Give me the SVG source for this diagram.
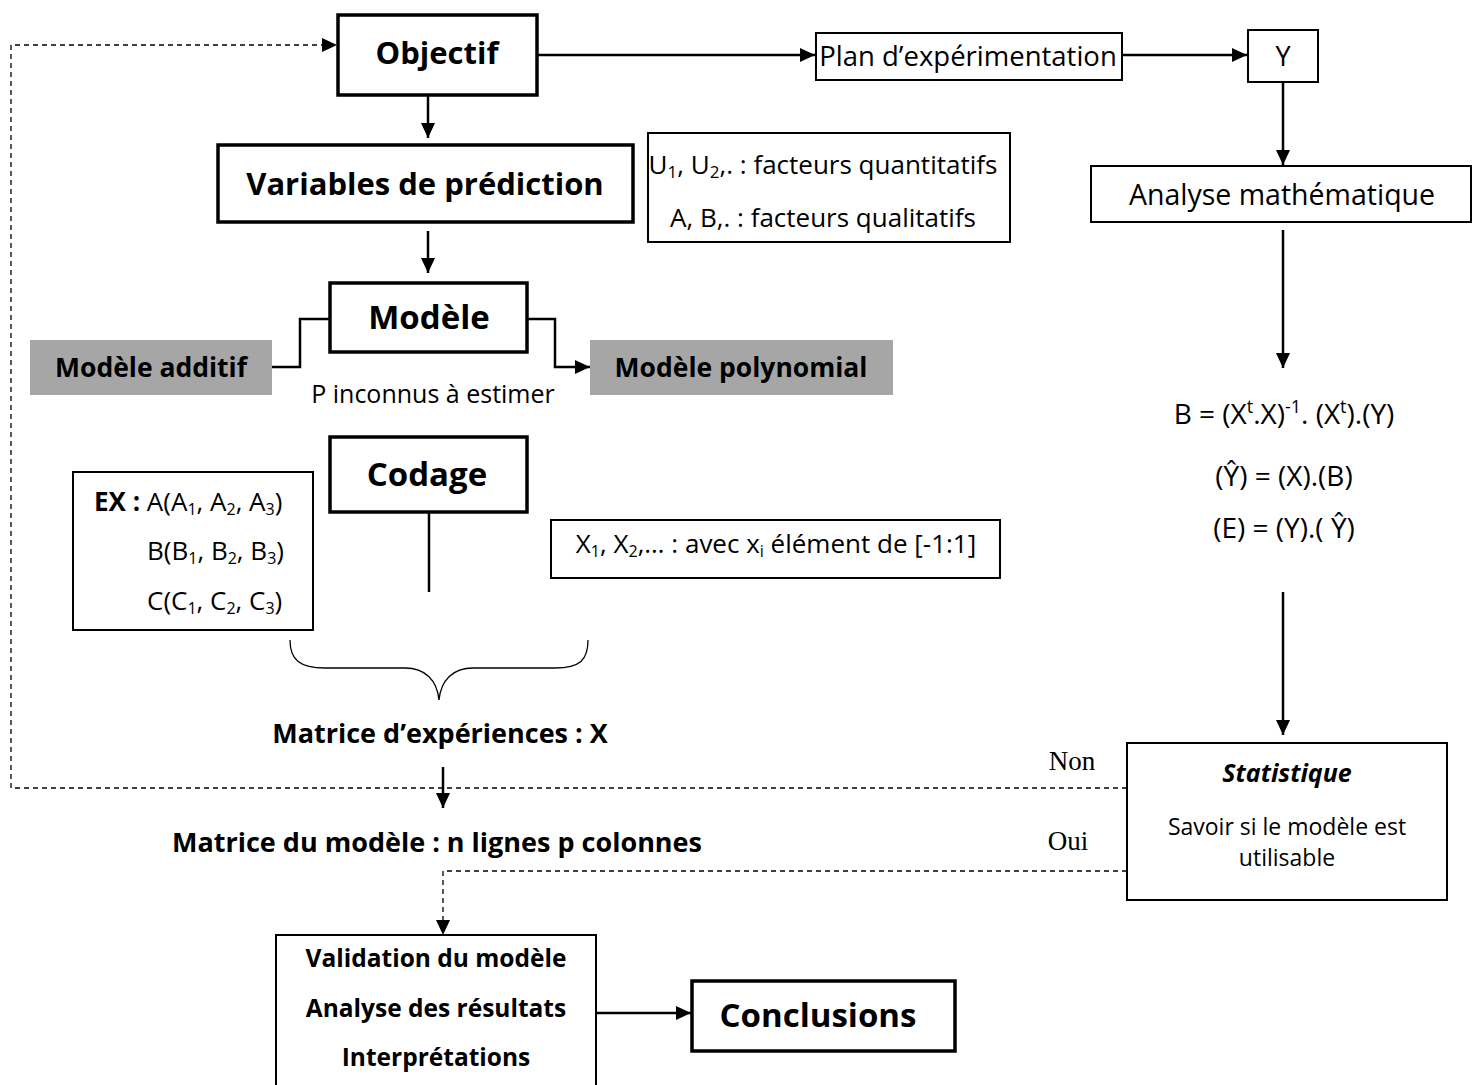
<svg xmlns="http://www.w3.org/2000/svg" width="1478" height="1085" viewBox="0 0 1478 1085">
  <defs>
    <marker id="arrow" markerUnits="userSpaceOnUse" markerWidth="16" markerHeight="14" refX="15" refY="7" orient="auto">
      <path d="M0,0 L15,7 L0,14 Z" fill="#000"/>
    </marker>
  </defs>
  <style>
    text { font-family: "Open Sans", Lato, "Liberation Sans", sans-serif; fill: #000; }
    .b { font-weight: bold; }
    .c { text-anchor: middle; }
    .serif { font-family: "Liberation Serif", serif; }
    .box { fill: #fff; stroke: #000; stroke-width: 2; }
    .box3 { fill: #fff; stroke: #000; stroke-width: 3.5; }
    .grey { fill: #a6a6a6; stroke: none; }
    .ln { fill: none; stroke: #000; stroke-width: 2.5; }
    .dash { fill: none; stroke: #000; stroke-width: 1.3; stroke-dasharray: 5 4; }
  </style>

  <rect width="1478" height="1085" fill="#fff"/>

  <!-- connectors -->
  <g id="connectors">
    <path class="ln" d="M537,55 H815" marker-end="url(#arrow)"/>
    <path class="ln" d="M1122,55 H1247" marker-end="url(#arrow)"/>
    <path class="ln" d="M1283,82 V165" marker-end="url(#arrow)"/>
    <path class="ln" d="M1283,230 V368" marker-end="url(#arrow)"/>
    <path class="ln" d="M1283,592 V735" marker-end="url(#arrow)"/>
    <path class="ln" d="M428,96 V138" marker-end="url(#arrow)"/>
    <path class="ln" d="M428,231 V273" marker-end="url(#arrow)"/>
    <path class="ln" d="M272,367 H300 V319 H330"/>
    <path class="ln" d="M527,319 H555 V367 H590" marker-end="url(#arrow)"/>
    <path class="ln" d="M429,512 V592"/>
    <path class="ln" d="M443,767 V808" marker-end="url(#arrow)"/>
    <path class="ln" d="M597,1013 H691" marker-end="url(#arrow)"/>
    <!-- brace gathering the coding inputs -->
    <path fill="none" stroke="#000" stroke-width="1.3" d="M290,640 C290,660 300,668 325,668 L405,668 C425,668 437,680 439,700 C441,680 453,668 473,668 L555,668 C580,668 588,660 588,640"/>
    <!-- feedback paths from the statistics step -->
    <path class="dash" d="M1127,788 H11 V45 H337" marker-end="url(#arrow)"/>
    <path class="dash" d="M1127,871 H443 V935" marker-end="url(#arrow)"/>
  </g>

  <g id="objectif">
    <rect class="box3" x="338" y="15" width="199" height="80"/>
    <text class="b c" x="437" y="64" font-size="31">Objectif</text>
  </g>

  <g id="plan">
    <rect class="box" x="816" y="33" width="306" height="47"/>
    <text class="c" x="968" y="66" font-size="27.5">Plan d’expérimentation</text>
  </g>

  <g id="y">
    <rect class="box" x="1248" y="30" width="70" height="52"/>
    <text class="c" x="1283" y="66" font-size="27">Y</text>
  </g>

  <g id="analyse">
    <rect class="box" x="1091" y="166" width="380" height="56"/>
    <text class="c" x="1282" y="205" font-size="28.5">Analyse mathématique</text>
  </g>

  <g id="formules">
    <text class="c" x="1284" y="424" font-size="28">B = (X<tspan font-size="18" dy="-11">t</tspan><tspan dy="11">.X)</tspan><tspan font-size="18" dy="-11">-1</tspan><tspan dy="11">. (X</tspan><tspan font-size="18" dy="-11">t</tspan><tspan dy="11">).(Y)</tspan></text>
    <text class="c" x="1284" y="486" font-size="28">(Ŷ) = (X).(B)</text>
    <text class="c" x="1284" y="538" font-size="28">(E) = (Y).( Ŷ)</text>
  </g>

  <g id="statistique">
    <rect class="box" x="1127" y="743" width="320" height="157"/>
    <text class="b c" x="1287" y="782" font-size="25" font-style="italic">Statistique</text>
    <text class="c" x="1287" y="835" font-size="23">Savoir si le modèle est</text>
    <text class="c" x="1287" y="866" font-size="23">utilisable</text>
  </g>

  <g id="non-oui">
    <text class="serif c" x="1072" y="770" font-size="27">Non</text>
    <text class="serif c" x="1068" y="850" font-size="27">Oui</text>
  </g>

  <g id="variables">
    <rect class="box3" x="218" y="145" width="415" height="77"/>
    <text class="b c" x="425" y="195" font-size="31">Variables de prédiction</text>
  </g>

  <g id="facteurs">
    <rect class="box" x="648" y="133" width="362" height="109"/>
    <text class="c" x="823" y="174" font-size="26">U<tspan font-size="17" dy="4">1</tspan><tspan dy="-4">, U</tspan><tspan font-size="17" dy="4">2</tspan><tspan dy="-4">,. : facteurs quantitatifs</tspan></text>
    <text class="c" x="823" y="227" font-size="26">A, B,. : facteurs qualitatifs</text>
  </g>

  <g id="modele">
    <rect class="box3" x="330" y="283" width="197" height="69"/>
    <text class="b c" x="429" y="329" font-size="33">Modèle</text>
  </g>

  <g id="modele-additif">
    <rect class="grey" x="30" y="340" width="242" height="55"/>
    <text class="b c" x="151" y="377" font-size="26.5">Modèle additif</text>
  </g>

  <g id="modele-polynomial">
    <rect class="grey" x="590" y="340" width="303" height="55"/>
    <text class="b c" x="741" y="377" font-size="26.5">Modèle polynomial</text>
  </g>

  <text class="c" x="433" y="403" font-size="25">P inconnus à estimer</text>

  <g id="codage">
    <rect class="box3" x="330" y="437" width="197" height="75"/>
    <text class="b c" x="427" y="486" font-size="33">Codage</text>
  </g>

  <g id="exemple">
    <rect class="box" x="73" y="472" width="240" height="158"/>
    <text x="94" y="511" font-size="26"><tspan font-weight="bold">EX :</tspan> A(A<tspan font-size="16" dy="4">1</tspan><tspan dy="-4">, A</tspan><tspan font-size="16" dy="4">2</tspan><tspan dy="-4">, A</tspan><tspan font-size="16" dy="4">3</tspan><tspan dy="-4">)</tspan></text>
    <text x="147" y="560" font-size="26">B(B<tspan font-size="16" dy="4">1</tspan><tspan dy="-4">, B</tspan><tspan font-size="16" dy="4">2</tspan><tspan dy="-4">, B</tspan><tspan font-size="16" dy="4">3</tspan><tspan dy="-4">)</tspan></text>
    <text x="147" y="610" font-size="26">C(C<tspan font-size="16" dy="4">1</tspan><tspan dy="-4">, C</tspan><tspan font-size="16" dy="4">2</tspan><tspan dy="-4">, C</tspan><tspan font-size="16" dy="4">3</tspan><tspan dy="-4">)</tspan></text>
  </g>

  <g id="codage-x">
    <rect class="box" x="551" y="520" width="449" height="58"/>
    <text class="c" x="776" y="553" font-size="26">X<tspan font-size="16" dy="4">1</tspan><tspan dy="-4">, X</tspan><tspan font-size="16" dy="4">2</tspan><tspan dy="-4">,… : avec x</tspan><tspan font-size="16" dy="4">i</tspan><tspan dy="-4"> élément de [-1:1]</tspan></text>
  </g>

  <g id="matrice-experiences">
    <text class="b c" x="440" y="743" font-size="27">Matrice d’expériences : X</text>
  </g>

  <g id="matrice-modele">
    <text class="b c" x="437" y="852" font-size="27">Matrice du modèle : n lignes p colonnes</text>
  </g>

  <g id="validation">
    <rect class="box" x="276" y="935" width="320" height="155"/>
    <text class="b c" x="436" y="967" font-size="24.5">Validation du modèle</text>
    <text class="b c" x="436" y="1017" font-size="24.5">Analyse des résultats</text>
    <text class="b c" x="436" y="1066" font-size="24.5">Interprétations</text>
  </g>

  <g id="conclusions">
    <rect class="box3" x="692" y="981" width="263" height="70"/>
    <text class="b c" x="818" y="1027" font-size="33">Conclusions</text>
  </g>
</svg>
